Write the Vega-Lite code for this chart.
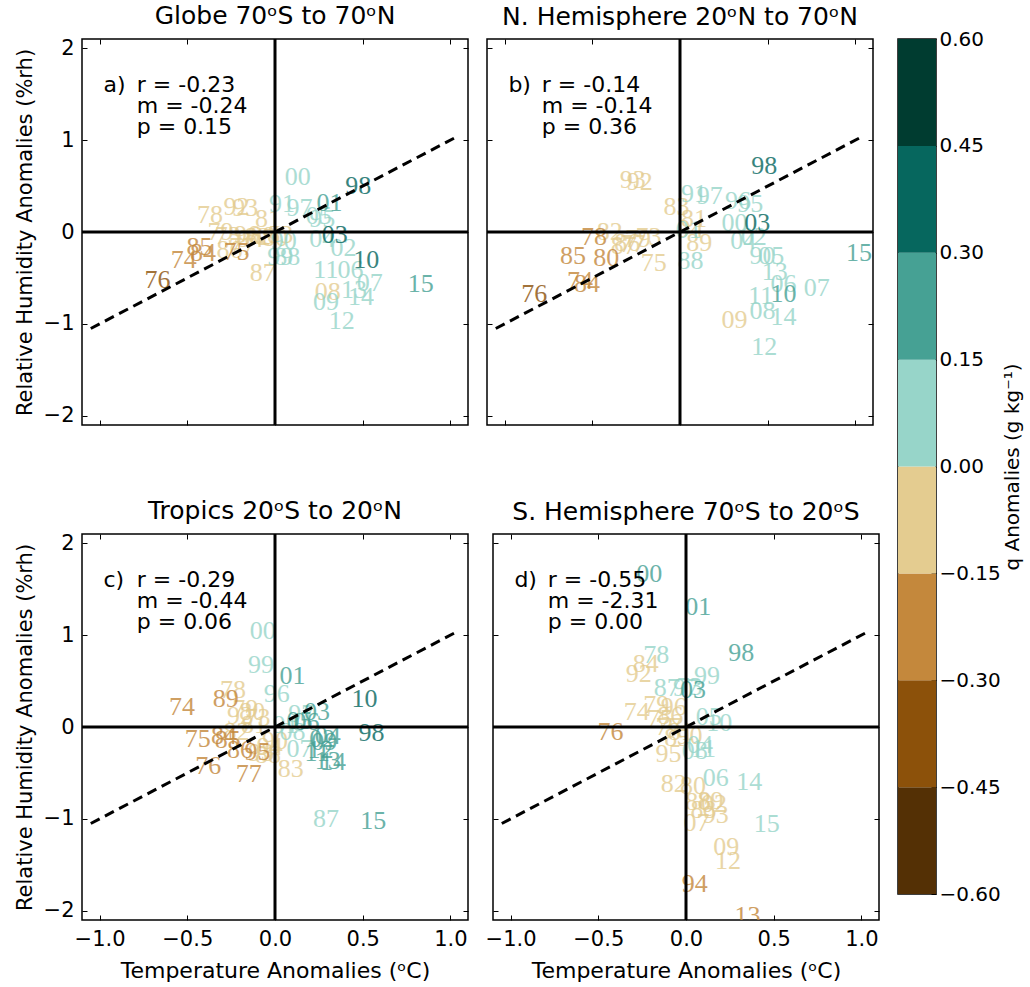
{
"$schema": "https://vega.github.io/schema/vega-lite/v6.json",
"padding": {"left": 13, "top": 3, "right": 0, "bottom": 0},
"config": {
  "font": "DejaVu Sans",
  "view": {"stroke": "#000", "strokeWidth": 1.5},
  "axis": {"domain": false, "grid": false, "tickColor": "#000", "tickSize": -5, "tickWidth": 1, "labelFontSize": 21, "labelColor": "#000", "labelPadding": 13, "titleFontSize": 21, "titleFontWeight": "normal", "titleColor": "#000", "labelFont": "DejaVu Sans", "titleFont": "DejaVu Sans", "titlePadding": 8},
  "title": {"fontSize": 25, "fontWeight": "normal", "color": "#000", "font": "DejaVu Sans", "offset": 8}
},
"datasets": {
  "zero": [{"v": 0}],
  "diag": [{"t": -1.05, "rh": -1.05}, {"t": 1.05, "rh": 1.05}],
  "bins": [{"lo": -0.6, "hi": -0.45}, {"lo": -0.45, "hi": -0.3}, {"lo": -0.3, "hi": -0.15}, {"lo": -0.15, "hi": 0}, {"lo": 0, "hi": 0.15}, {"lo": 0.15, "hi": 0.3}, {"lo": 0.3, "hi": 0.45}, {"lo": 0.45, "hi": 0.6}],
  "stats": [
    {"p": "a", "lab": "a)", "txt": "r = -0.23\nm = -0.24\np = 0.15"},
    {"p": "b", "lab": "b)", "txt": "r = -0.14\nm = -0.14\np = 0.36"},
    {"p": "c", "lab": "c)", "txt": "r = -0.29\nm = -0.44\np = 0.06"},
    {"p": "d", "lab": "d)", "txt": "r = -0.55\nm = -2.31\np = 0.00"}
  ],
  "pa": [
    {"yr": "79", "t": -0.31, "rh": 0.0, "q": -0.07},
    {"yr": "73", "t": -0.27, "rh": -0.04, "q": -0.07},
    {"yr": "86", "t": -0.26, "rh": -0.2, "q": -0.07},
    {"yr": "77", "t": -0.19, "rh": -0.16, "q": -0.07},
    {"yr": "94", "t": -0.14, "rh": -0.08, "q": -0.07},
    {"yr": "82", "t": -0.1, "rh": -0.05, "q": -0.07},
    {"yr": "78", "t": -0.37, "rh": 0.19, "q": -0.07},
    {"yr": "92", "t": -0.22, "rh": 0.27, "q": -0.07},
    {"yr": "93", "t": -0.17, "rh": 0.26, "q": -0.07},
    {"yr": "81", "t": -0.04, "rh": 0.14, "q": -0.07},
    {"yr": "96", "t": -0.16, "rh": -0.03, "q": -0.07},
    {"yr": "89", "t": -0.07, "rh": -0.04, "q": -0.07},
    {"yr": "83", "t": 0.03, "rh": -0.03, "q": -0.07},
    {"yr": "80", "t": 0.0, "rh": -0.06, "q": -0.07},
    {"yr": "87", "t": -0.07, "rh": -0.45, "q": -0.07},
    {"yr": "08", "t": 0.3, "rh": -0.65, "q": -0.07},
    {"yr": "85", "t": -0.43, "rh": -0.16, "q": -0.22},
    {"yr": "84", "t": -0.41, "rh": -0.23, "q": -0.22},
    {"yr": "74", "t": -0.52, "rh": -0.3, "q": -0.22},
    {"yr": "75", "t": -0.22, "rh": -0.22, "q": -0.22},
    {"yr": "76", "t": -0.67, "rh": -0.52, "q": -0.37},
    {"yr": "00", "t": 0.13, "rh": 0.6, "q": 0.07},
    {"yr": "91", "t": 0.04, "rh": 0.3, "q": 0.07},
    {"yr": "97", "t": 0.14, "rh": 0.26, "q": 0.07},
    {"yr": "95", "t": 0.27, "rh": 0.14, "q": 0.07},
    {"yr": "05", "t": 0.25, "rh": 0.17, "q": 0.07},
    {"yr": "04", "t": 0.27, "rh": -0.08, "q": 0.07},
    {"yr": "02", "t": 0.39, "rh": -0.17, "q": 0.07},
    {"yr": "90", "t": 0.05, "rh": -0.1, "q": 0.07},
    {"yr": "99", "t": 0.03, "rh": -0.27, "q": 0.07},
    {"yr": "88", "t": 0.07, "rh": -0.27, "q": 0.07},
    {"yr": "06", "t": 0.43, "rh": -0.41, "q": 0.07},
    {"yr": "11", "t": 0.29, "rh": -0.41, "q": 0.07},
    {"yr": "13", "t": 0.45, "rh": -0.63, "q": 0.07},
    {"yr": "07", "t": 0.54, "rh": -0.55, "q": 0.07},
    {"yr": "14", "t": 0.49, "rh": -0.71, "q": 0.07},
    {"yr": "09", "t": 0.29, "rh": -0.76, "q": 0.07},
    {"yr": "12", "t": 0.38, "rh": -0.97, "q": 0.07},
    {"yr": "01", "t": 0.31, "rh": 0.32, "q": 0.22},
    {"yr": "15", "t": 0.83, "rh": -0.57, "q": 0.22},
    {"yr": "98", "t": 0.475, "rh": 0.5, "q": 0.37},
    {"yr": "03", "t": 0.34, "rh": -0.03, "q": 0.37},
    {"yr": "10", "t": 0.52, "rh": -0.3, "q": 0.37}
  ],
  "pb": [
    {"yr": "93", "t": -0.27, "rh": 0.57, "q": -0.07},
    {"yr": "92", "t": -0.23, "rh": 0.54, "q": -0.07},
    {"yr": "83", "t": -0.02, "rh": 0.27, "q": -0.07},
    {"yr": "81", "t": 0.08, "rh": 0.14, "q": -0.07},
    {"yr": "94", "t": 0.06, "rh": 0.03, "q": -0.07},
    {"yr": "82", "t": -0.4, "rh": 0.0, "q": -0.07},
    {"yr": "73", "t": -0.18, "rh": -0.05, "q": -0.07},
    {"yr": "79", "t": -0.24, "rh": -0.08, "q": -0.07},
    {"yr": "86", "t": -0.3, "rh": -0.12, "q": -0.07},
    {"yr": "77", "t": -0.27, "rh": -0.13, "q": -0.07},
    {"yr": "87", "t": -0.32, "rh": -0.15, "q": -0.07},
    {"yr": "89", "t": 0.11, "rh": -0.12, "q": -0.07},
    {"yr": "75", "t": -0.15, "rh": -0.34, "q": -0.07},
    {"yr": "09", "t": 0.31, "rh": -0.96, "q": -0.07},
    {"yr": "78", "t": -0.49, "rh": -0.05, "q": -0.22},
    {"yr": "85", "t": -0.61, "rh": -0.26, "q": -0.22},
    {"yr": "80", "t": -0.42, "rh": -0.28, "q": -0.22},
    {"yr": "74", "t": -0.57, "rh": -0.53, "q": -0.22},
    {"yr": "84", "t": -0.53, "rh": -0.57, "q": -0.22},
    {"yr": "76", "t": -0.83, "rh": -0.68, "q": -0.37},
    {"yr": "91", "t": 0.08, "rh": 0.41, "q": 0.07},
    {"yr": "97", "t": 0.17, "rh": 0.39, "q": 0.07},
    {"yr": "96", "t": 0.33, "rh": 0.34, "q": 0.07},
    {"yr": "95", "t": 0.4, "rh": 0.3, "q": 0.07},
    {"yr": "00", "t": 0.31, "rh": 0.1, "q": 0.07},
    {"yr": "01", "t": 0.05, "rh": 0.02, "q": 0.07},
    {"yr": "02", "t": 0.42, "rh": -0.05, "q": 0.07},
    {"yr": "04", "t": 0.36, "rh": -0.1, "q": 0.07},
    {"yr": "90", "t": 0.47, "rh": -0.26, "q": 0.07},
    {"yr": "05", "t": 0.52, "rh": -0.26, "q": 0.07},
    {"yr": "88", "t": 0.06, "rh": -0.32, "q": 0.07},
    {"yr": "13", "t": 0.54, "rh": -0.43, "q": 0.07},
    {"yr": "06", "t": 0.59, "rh": -0.57, "q": 0.07},
    {"yr": "07", "t": 0.78, "rh": -0.61, "q": 0.07},
    {"yr": "11", "t": 0.46, "rh": -0.7, "q": 0.07},
    {"yr": "08", "t": 0.47, "rh": -0.86, "q": 0.07},
    {"yr": "14", "t": 0.59, "rh": -0.92, "q": 0.07},
    {"yr": "12", "t": 0.48, "rh": -1.25, "q": 0.07},
    {"yr": "10", "t": 0.59, "rh": -0.68, "q": 0.22},
    {"yr": "15", "t": 1.02, "rh": -0.23, "q": 0.22},
    {"yr": "98", "t": 0.48, "rh": 0.72, "q": 0.37},
    {"yr": "03", "t": 0.44, "rh": 0.1, "q": 0.37}
  ],
  "pc": [
    {"yr": "78", "t": -0.24, "rh": 0.4, "q": -0.07},
    {"yr": "79", "t": -0.17, "rh": 0.2, "q": -0.07},
    {"yr": "80", "t": -0.13, "rh": 0.16, "q": -0.07},
    {"yr": "92", "t": -0.2, "rh": 0.12, "q": -0.07},
    {"yr": "73", "t": -0.1, "rh": 0.1, "q": -0.07},
    {"yr": "81", "t": -0.12, "rh": 0.02, "q": -0.07},
    {"yr": "82", "t": -0.22, "rh": -0.05, "q": -0.07},
    {"yr": "90", "t": 0.0, "rh": -0.15, "q": -0.07},
    {"yr": "94", "t": -0.03, "rh": -0.22, "q": -0.07},
    {"yr": "88", "t": -0.04, "rh": -0.3, "q": -0.07},
    {"yr": "93", "t": -0.08, "rh": -0.28, "q": -0.07},
    {"yr": "83", "t": 0.09, "rh": -0.46, "q": -0.07},
    {"yr": "89", "t": -0.28, "rh": 0.31, "q": -0.22},
    {"yr": "74", "t": -0.53, "rh": 0.22, "q": -0.22},
    {"yr": "75", "t": -0.44, "rh": -0.13, "q": -0.22},
    {"yr": "84", "t": -0.29, "rh": -0.1, "q": -0.22},
    {"yr": "85", "t": -0.27, "rh": -0.14, "q": -0.22},
    {"yr": "86", "t": -0.2, "rh": -0.25, "q": -0.22},
    {"yr": "95", "t": -0.1, "rh": -0.27, "q": -0.22},
    {"yr": "76", "t": -0.38, "rh": -0.42, "q": -0.22},
    {"yr": "77", "t": -0.15, "rh": -0.51, "q": -0.22},
    {"yr": "00", "t": -0.07, "rh": 1.04, "q": 0.07},
    {"yr": "99", "t": -0.08, "rh": 0.67, "q": 0.07},
    {"yr": "96", "t": 0.01, "rh": 0.36, "q": 0.07},
    {"yr": "97", "t": 0.15, "rh": 0.14, "q": 0.07},
    {"yr": "91", "t": 0.06, "rh": 0.02, "q": 0.07},
    {"yr": "08", "t": 0.1, "rh": -0.05, "q": 0.07},
    {"yr": "07", "t": 0.14, "rh": -0.24, "q": 0.07},
    {"yr": "87", "t": 0.29, "rh": -1.0, "q": 0.07},
    {"yr": "01", "t": 0.1, "rh": 0.56, "q": 0.22},
    {"yr": "03", "t": 0.24, "rh": 0.16, "q": 0.22},
    {"yr": "05", "t": 0.14, "rh": 0.06, "q": 0.22},
    {"yr": "06", "t": 0.18, "rh": 0.05, "q": 0.22},
    {"yr": "02", "t": 0.27, "rh": -0.13, "q": 0.22},
    {"yr": "04", "t": 0.3, "rh": -0.1, "q": 0.22},
    {"yr": "09", "t": 0.28, "rh": -0.16, "q": 0.22},
    {"yr": "11", "t": 0.24, "rh": -0.28, "q": 0.22},
    {"yr": "12", "t": 0.26, "rh": -0.25, "q": 0.22},
    {"yr": "13", "t": 0.3, "rh": -0.37, "q": 0.22},
    {"yr": "14", "t": 0.33, "rh": -0.38, "q": 0.22},
    {"yr": "15", "t": 0.56, "rh": -1.02, "q": 0.22},
    {"yr": "10", "t": 0.51, "rh": 0.31, "q": 0.37},
    {"yr": "98", "t": 0.55, "rh": -0.07, "q": 0.37}
  ],
  "pd": [
    {"yr": "84", "t": -0.23, "rh": 0.69, "q": -0.07},
    {"yr": "92", "t": -0.27, "rh": 0.58, "q": -0.07},
    {"yr": "79", "t": -0.17, "rh": 0.24, "q": -0.07},
    {"yr": "74", "t": -0.28, "rh": 0.16, "q": -0.07},
    {"yr": "96", "t": -0.07, "rh": 0.22, "q": -0.07},
    {"yr": "75", "t": -0.15, "rh": 0.09, "q": -0.07},
    {"yr": "86", "t": -0.09, "rh": 0.12, "q": -0.07},
    {"yr": "77", "t": -0.1, "rh": 0.0, "q": -0.07},
    {"yr": "81", "t": -0.03, "rh": -0.05, "q": -0.07},
    {"yr": "85", "t": -0.05, "rh": -0.12, "q": -0.07},
    {"yr": "90", "t": 0.02, "rh": -0.1, "q": -0.07},
    {"yr": "95", "t": -0.1, "rh": -0.29, "q": -0.07},
    {"yr": "82", "t": -0.07, "rh": -0.62, "q": -0.07},
    {"yr": "80", "t": 0.04, "rh": -0.64, "q": -0.07},
    {"yr": "88", "t": 0.07, "rh": -0.82, "q": -0.07},
    {"yr": "89", "t": 0.14, "rh": -0.8, "q": -0.07},
    {"yr": "02", "t": 0.16, "rh": -0.84, "q": -0.07},
    {"yr": "83", "t": 0.1, "rh": -0.9, "q": -0.07},
    {"yr": "93", "t": 0.17, "rh": -0.96, "q": -0.07},
    {"yr": "07", "t": 0.06, "rh": -1.04, "q": -0.07},
    {"yr": "09", "t": 0.23, "rh": -1.31, "q": -0.07},
    {"yr": "12", "t": 0.24, "rh": -1.46, "q": -0.07},
    {"yr": "76", "t": -0.43, "rh": -0.05, "q": -0.22},
    {"yr": "94", "t": 0.05, "rh": -1.71, "q": -0.22},
    {"yr": "13", "t": 0.35, "rh": -2.06, "q": -0.22},
    {"yr": "78", "t": -0.17, "rh": 0.78, "q": 0.07},
    {"yr": "99", "t": 0.12, "rh": 0.56, "q": 0.07},
    {"yr": "87", "t": -0.11, "rh": 0.42, "q": 0.07},
    {"yr": "97", "t": 0.0, "rh": 0.42, "q": 0.07},
    {"yr": "73", "t": 0.02, "rh": 0.44, "q": 0.07},
    {"yr": "05", "t": 0.13, "rh": 0.11, "q": 0.07},
    {"yr": "10", "t": 0.19, "rh": 0.04, "q": 0.07},
    {"yr": "04", "t": 0.08, "rh": -0.2, "q": 0.07},
    {"yr": "11", "t": 0.1, "rh": -0.24, "q": 0.07},
    {"yr": "08", "t": 0.05, "rh": -0.26, "q": 0.07},
    {"yr": "06", "t": 0.17, "rh": -0.56, "q": 0.07},
    {"yr": "14", "t": 0.36, "rh": -0.6, "q": 0.07},
    {"yr": "15", "t": 0.46, "rh": -1.06, "q": 0.07},
    {"yr": "00", "t": -0.21, "rh": 1.67, "q": 0.22},
    {"yr": "01", "t": 0.07, "rh": 1.31, "q": 0.22},
    {"yr": "98", "t": 0.315, "rh": 0.8, "q": 0.22},
    {"yr": "03", "t": 0.04, "rh": 0.4, "q": 0.22}
  ]
},
"hconcat": [
  {"vconcat": [
    {"hconcat": [
      {"width": 386, "height": 386, "title": "Globe 70ᵒS to 70ᵒN",
       "layer": [
        {"data": {"name": "pa"}, "mark": {"type": "text", "font": "Liberation Serif", "fontSize": 26, "opacity": 0.8, "clip": true},
         "encoding": {"x": {"field": "t", "type": "quantitative", "scale": {"domain": [-1.1, 1.1], "nice": false, "zero": false}, "axis": null},
                      "y": {"field": "rh", "type": "quantitative", "scale": {"domain": [-2.1, 2.1], "nice": false, "zero": false}, "axis": null},
                      "text": {"field": "yr"},
                      "color": {"field": "q", "type": "quantitative", "scale": {"type": "threshold", "domain": [-0.45, -0.3, -0.15, 0, 0.15, 0.3, 0.45], "range": ["#543005", "#8c510a", "#c4883c", "#e4cc90", "#97d5c9", "#46a194", "#06675e", "#003c30"]}, "legend": null}}},
        {"data": {"name": "stats"}, "transform": [{"filter": "datum.p == 'a'"}], "mark": {"type": "text", "fontSize": 22, "align": "left", "baseline": "alphabetic", "color": "#000"},
         "encoding": {"x": {"datum": -0.978, "type": "quantitative", "axis": null}, "y": {"datum": 1.526, "type": "quantitative", "axis": null}, "text": {"field": "lab"}}},
        {"data": {"name": "stats"}, "transform": [{"filter": "datum.p == 'a'"}], "mark": {"type": "text", "fontSize": 22, "align": "left", "baseline": "alphabetic", "lineBreak": "\n", "lineHeight": 21, "color": "#000"},
         "encoding": {"x": {"datum": -0.788, "type": "quantitative", "axis": null}, "y": {"datum": 1.526, "type": "quantitative", "axis": null}, "text": {"field": "txt"}}},
        {"data": {"name": "zero"}, "mark": {"type": "rule", "color": "#000", "strokeWidth": 3},
         "encoding": {"x": {"field": "v", "type": "quantitative", "scale": {"domain": [-1.1, 1.1], "nice": false, "zero": false}, "axis": {"orient": "bottom", "values": [-1, -0.5, 0, 0.5, 1], "labels": false, "title": null}}}},
        {"data": {"name": "zero"}, "mark": {"type": "rule", "color": "#000", "strokeWidth": 3},
         "encoding": {"y": {"field": "v", "type": "quantitative", "scale": {"domain": [-2.1, 2.1], "nice": false, "zero": false}, "axis": {"orient": "left", "values": [-2, -1, 0, 1, 2], "format": "d", "title": "Relative Humidity Anomalies (%rh)"}}}},
        {"data": {"name": "diag"}, "mark": {"type": "line", "color": "#000", "strokeWidth": 3, "strokeDash": [10, 6]},
         "encoding": {"x": {"field": "t", "type": "quantitative", "axis": {"orient": "top", "values": [-1, -0.5, 0, 0.5, 1], "labels": false, "title": null}},
                      "y": {"field": "rh", "type": "quantitative", "axis": {"orient": "right", "values": [-2, -1, 0, 1, 2], "labels": false, "title": null}}}}
       ],
       "resolve": {"axis": {"x": "independent", "y": "independent"}}},
      {"width": 386, "height": 386, "title": "N. Hemisphere 20ᵒN to 70ᵒN",
       "layer": [
        {"data": {"name": "pb"}, "mark": {"type": "text", "font": "Liberation Serif", "fontSize": 26, "opacity": 0.8, "clip": true},
         "encoding": {"x": {"field": "t", "type": "quantitative", "scale": {"domain": [-1.1, 1.1], "nice": false, "zero": false}, "axis": null},
                      "y": {"field": "rh", "type": "quantitative", "scale": {"domain": [-2.1, 2.1], "nice": false, "zero": false}, "axis": null},
                      "text": {"field": "yr"},
                      "color": {"field": "q", "type": "quantitative", "scale": {"type": "threshold", "domain": [-0.45, -0.3, -0.15, 0, 0.15, 0.3, 0.45], "range": ["#543005", "#8c510a", "#c4883c", "#e4cc90", "#97d5c9", "#46a194", "#06675e", "#003c30"]}, "legend": null}}},
        {"data": {"name": "stats"}, "transform": [{"filter": "datum.p == 'b'"}], "mark": {"type": "text", "fontSize": 22, "align": "left", "baseline": "alphabetic", "color": "#000"},
         "encoding": {"x": {"datum": -0.978, "type": "quantitative", "axis": null}, "y": {"datum": 1.526, "type": "quantitative", "axis": null}, "text": {"field": "lab"}}},
        {"data": {"name": "stats"}, "transform": [{"filter": "datum.p == 'b'"}], "mark": {"type": "text", "fontSize": 22, "align": "left", "baseline": "alphabetic", "lineBreak": "\n", "lineHeight": 21, "color": "#000"},
         "encoding": {"x": {"datum": -0.788, "type": "quantitative", "axis": null}, "y": {"datum": 1.526, "type": "quantitative", "axis": null}, "text": {"field": "txt"}}},
        {"data": {"name": "zero"}, "mark": {"type": "rule", "color": "#000", "strokeWidth": 3},
         "encoding": {"x": {"field": "v", "type": "quantitative", "scale": {"domain": [-1.1, 1.1], "nice": false, "zero": false}, "axis": {"orient": "bottom", "values": [-1, -0.5, 0, 0.5, 1], "labels": false, "title": null}}}},
        {"data": {"name": "zero"}, "mark": {"type": "rule", "color": "#000", "strokeWidth": 3},
         "encoding": {"y": {"field": "v", "type": "quantitative", "scale": {"domain": [-2.1, 2.1], "nice": false, "zero": false}, "axis": {"orient": "left", "values": [-2, -1, 0, 1, 2], "labels": false, "title": null}}}},
        {"data": {"name": "diag"}, "mark": {"type": "line", "color": "#000", "strokeWidth": 3, "strokeDash": [10, 6]},
         "encoding": {"x": {"field": "t", "type": "quantitative", "axis": {"orient": "top", "values": [-1, -0.5, 0, 0.5, 1], "labels": false, "title": null}},
                      "y": {"field": "rh", "type": "quantitative", "axis": {"orient": "right", "values": [-2, -1, 0, 1, 2], "labels": false, "title": null}}}}
       ],
       "resolve": {"axis": {"x": "independent", "y": "independent"}}}
    ], "spacing": 13},
    {"hconcat": [
      {"width": 386, "height": 386, "title": "Tropics 20ᵒS to 20ᵒN",
       "layer": [
        {"data": {"name": "pc"}, "mark": {"type": "text", "font": "Liberation Serif", "fontSize": 26, "opacity": 0.8, "clip": true},
         "encoding": {"x": {"field": "t", "type": "quantitative", "scale": {"domain": [-1.1, 1.1], "nice": false, "zero": false}, "axis": null},
                      "y": {"field": "rh", "type": "quantitative", "scale": {"domain": [-2.1, 2.1], "nice": false, "zero": false}, "axis": null},
                      "text": {"field": "yr"},
                      "color": {"field": "q", "type": "quantitative", "scale": {"type": "threshold", "domain": [-0.45, -0.3, -0.15, 0, 0.15, 0.3, 0.45], "range": ["#543005", "#8c510a", "#c4883c", "#e4cc90", "#97d5c9", "#46a194", "#06675e", "#003c30"]}, "legend": null}}},
        {"data": {"name": "stats"}, "transform": [{"filter": "datum.p == 'c'"}], "mark": {"type": "text", "fontSize": 22, "align": "left", "baseline": "alphabetic", "color": "#000"},
         "encoding": {"x": {"datum": -0.978, "type": "quantitative", "axis": null}, "y": {"datum": 1.526, "type": "quantitative", "axis": null}, "text": {"field": "lab"}}},
        {"data": {"name": "stats"}, "transform": [{"filter": "datum.p == 'c'"}], "mark": {"type": "text", "fontSize": 22, "align": "left", "baseline": "alphabetic", "lineBreak": "\n", "lineHeight": 21, "color": "#000"},
         "encoding": {"x": {"datum": -0.788, "type": "quantitative", "axis": null}, "y": {"datum": 1.526, "type": "quantitative", "axis": null}, "text": {"field": "txt"}}},
        {"data": {"name": "zero"}, "mark": {"type": "rule", "color": "#000", "strokeWidth": 3},
         "encoding": {"x": {"field": "v", "type": "quantitative", "scale": {"domain": [-1.1, 1.1], "nice": false, "zero": false}, "axis": {"orient": "bottom", "values": [-1, -0.5, 0, 0.5, 1], "format": ".1f", "title": "Temperature Anomalies (ᵒC)", "titleFontSize": 22, "titlePadding": 11}}}},
        {"data": {"name": "zero"}, "mark": {"type": "rule", "color": "#000", "strokeWidth": 3},
         "encoding": {"y": {"field": "v", "type": "quantitative", "scale": {"domain": [-2.1, 2.1], "nice": false, "zero": false}, "axis": {"orient": "left", "values": [-2, -1, 0, 1, 2], "format": "d", "title": "Relative Humidity Anomalies (%rh)"}}}},
        {"data": {"name": "diag"}, "mark": {"type": "line", "color": "#000", "strokeWidth": 3, "strokeDash": [10, 6]},
         "encoding": {"x": {"field": "t", "type": "quantitative", "axis": {"orient": "top", "values": [-1, -0.5, 0, 0.5, 1], "labels": false, "title": null}},
                      "y": {"field": "rh", "type": "quantitative", "axis": {"orient": "right", "values": [-2, -1, 0, 1, 2], "labels": false, "title": null}}}}
       ],
       "resolve": {"axis": {"x": "independent", "y": "independent"}}},
      {"width": 386, "height": 386, "title": "S. Hemisphere 70ᵒS to 20ᵒS",
       "layer": [
        {"data": {"name": "pd"}, "mark": {"type": "text", "font": "Liberation Serif", "fontSize": 26, "opacity": 0.8, "clip": true},
         "encoding": {"x": {"field": "t", "type": "quantitative", "scale": {"domain": [-1.1, 1.1], "nice": false, "zero": false}, "axis": null},
                      "y": {"field": "rh", "type": "quantitative", "scale": {"domain": [-2.1, 2.1], "nice": false, "zero": false}, "axis": null},
                      "text": {"field": "yr"},
                      "color": {"field": "q", "type": "quantitative", "scale": {"type": "threshold", "domain": [-0.45, -0.3, -0.15, 0, 0.15, 0.3, 0.45], "range": ["#543005", "#8c510a", "#c4883c", "#e4cc90", "#97d5c9", "#46a194", "#06675e", "#003c30"]}, "legend": null}}},
        {"data": {"name": "stats"}, "transform": [{"filter": "datum.p == 'd'"}], "mark": {"type": "text", "fontSize": 22, "align": "left", "baseline": "alphabetic", "color": "#000"},
         "encoding": {"x": {"datum": -0.978, "type": "quantitative", "axis": null}, "y": {"datum": 1.526, "type": "quantitative", "axis": null}, "text": {"field": "lab"}}},
        {"data": {"name": "stats"}, "transform": [{"filter": "datum.p == 'd'"}], "mark": {"type": "text", "fontSize": 22, "align": "left", "baseline": "alphabetic", "lineBreak": "\n", "lineHeight": 21, "color": "#000"},
         "encoding": {"x": {"datum": -0.788, "type": "quantitative", "axis": null}, "y": {"datum": 1.526, "type": "quantitative", "axis": null}, "text": {"field": "txt"}}},
        {"data": {"name": "zero"}, "mark": {"type": "rule", "color": "#000", "strokeWidth": 3},
         "encoding": {"x": {"field": "v", "type": "quantitative", "scale": {"domain": [-1.1, 1.1], "nice": false, "zero": false}, "axis": {"orient": "bottom", "values": [-1, -0.5, 0, 0.5, 1], "format": ".1f", "title": "Temperature Anomalies (ᵒC)", "titleFontSize": 22, "titlePadding": 11}}}},
        {"data": {"name": "zero"}, "mark": {"type": "rule", "color": "#000", "strokeWidth": 3},
         "encoding": {"y": {"field": "v", "type": "quantitative", "scale": {"domain": [-2.1, 2.1], "nice": false, "zero": false}, "axis": {"orient": "left", "values": [-2, -1, 0, 1, 2], "labels": false, "title": null}}}},
        {"data": {"name": "diag"}, "mark": {"type": "line", "color": "#000", "strokeWidth": 3, "strokeDash": [10, 6]},
         "encoding": {"x": {"field": "t", "type": "quantitative", "axis": {"orient": "top", "values": [-1, -0.5, 0, 0.5, 1], "labels": false, "title": null}},
                      "y": {"field": "rh", "type": "quantitative", "axis": {"orient": "right", "values": [-2, -1, 0, 1, 2], "labels": false, "title": null}}}}
       ],
       "resolve": {"axis": {"x": "independent", "y": "independent"}}}
    ], "spacing": 13}
  ], "spacing": 70},
  {"width": 38, "height": 855,
   "title": {"text": " ", "fontSize": 12, "offset": 10},
   "data": {"name": "bins"},
   "mark": {"type": "rect"},
   "encoding": {
     "y": {"field": "lo", "type": "quantitative", "scale": {"domain": [-0.6, 0.6], "nice": false, "zero": false},
           "axis": {"orient": "right", "values": [-0.6, -0.45, -0.3, -0.15, 0, 0.15, 0.3, 0.45, 0.6], "format": ".2f", "labelFontSize": 20, "labelPadding": 8, "title": "q Anomalies (g kg⁻¹)", "titleFontSize": 20, "titleAngle": 270, "titleBaseline": "top", "titlePadding": 2}},
     "y2": {"field": "hi"},
     "color": {"field": "lo", "type": "quantitative", "scale": {"type": "threshold", "domain": [-0.45, -0.3, -0.15, 0, 0.15, 0.3, 0.45], "range": ["#543005", "#8c510a", "#c4883c", "#e4cc90", "#97d5c9", "#46a194", "#06675e", "#003c30"]}, "legend": null}
   }}
],
"spacing": 15
}
